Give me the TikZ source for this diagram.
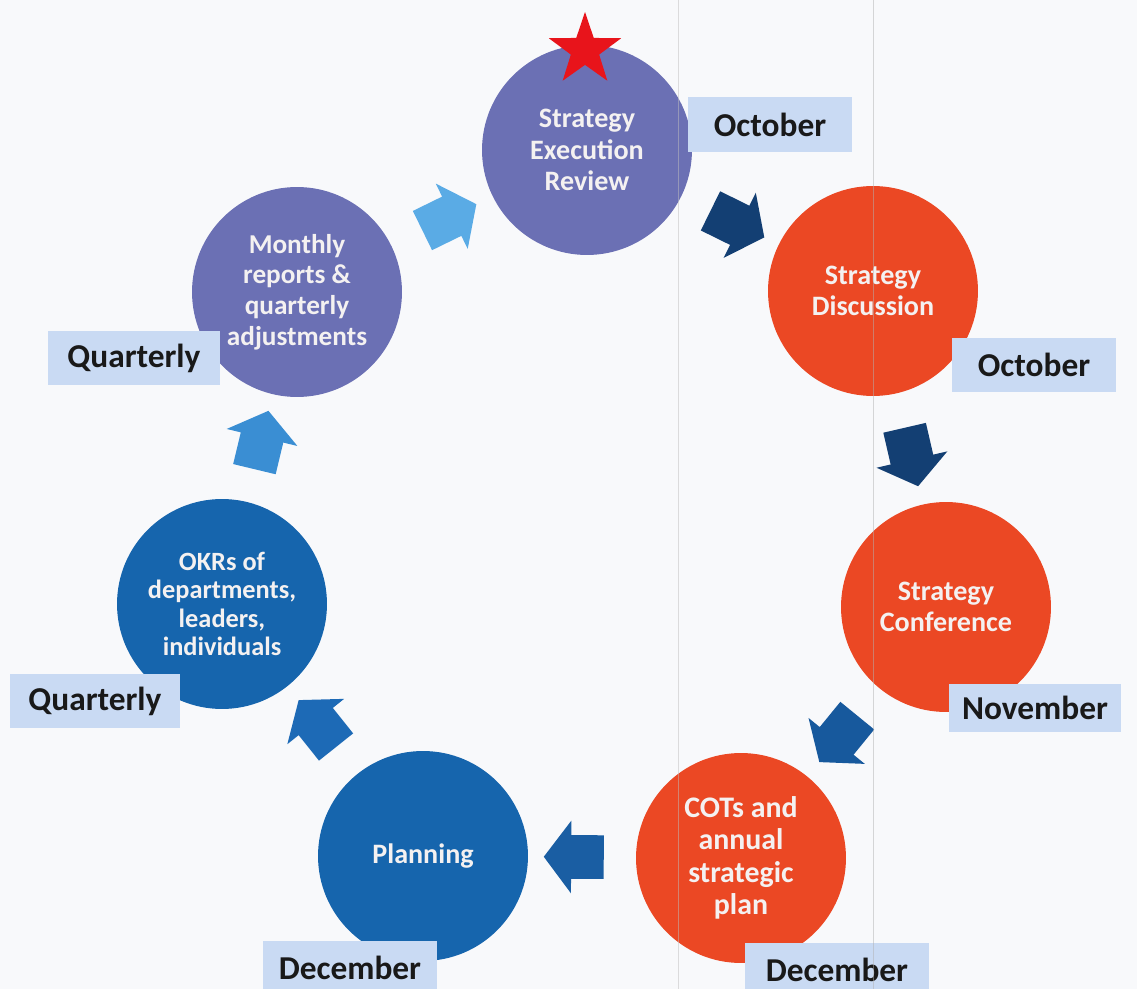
\documentclass[tikz,border=0pt]{standalone}
\usepackage{fontspec}
\setmainfont{Carlito}
\usepackage{xcolor}
\usetikzlibrary{shapes.geometric,shapes.arrows,calc}

\definecolor{paper}{HTML}{F8F9FB}
\definecolor{reviewPurple}{HTML}{6B70B4}
\definecolor{strategyRed}{HTML}{EB4824}
\definecolor{planBlue}{HTML}{1665AD}
\definecolor{monthFill}{HTML}{C9DAF3}
\definecolor{phaseText}{HTML}{F4F1F1}
\definecolor{starRed}{HTML}{E8141B}
\definecolor{arrowNavy}{HTML}{133F73}
\definecolor{arrowDeep}{HTML}{17599D}
\definecolor{arrowMid}{HTML}{1A5EA3}
\definecolor{arrowBlue}{HTML}{1D6AB6}
\definecolor{arrowSky}{HTML}{3A8ED3}
\definecolor{arrowLight}{HTML}{5AABE5}

\tikzset{
  phase/.style={circle, minimum size=4.2cm, inner sep=0pt, text=phaseText,
    align=center, font=\bfseries\fontsize{16}{18}\selectfont},
  month/.style={fill=monthFill, minimum width=3.3cm, minimum height=1.1cm,
    inner sep=0pt, text=black!90, font=\bfseries\fontsize{19}{22}\selectfont},
  blockarrow/.style={single arrow, minimum height=1.2cm,
    inner xsep=0pt, inner ysep=0.43cm,
    single arrow head extend=0.29cm, single arrow tip angle=106,
    sloped, allow upside down, midway}
}

\begin{document}
\begin{tikzpicture}[x=0.02cm, y=-0.02cm]
  % page
  \useasboundingbox (0,0) rectangle (1137,989);
  \clip (0,0) rectangle (1137,989);
  \fill[paper] (0,0) rectangle (1137,989);

  % the seven steps of the cycle
  \node[phase, fill=reviewPurple] (review) at (587,150) {Strategy\\Execution\\Review};
  \node[phase, fill=strategyRed] (discussion) at (873,291) {Strategy\\Discussion};
  \node[phase, fill=strategyRed] (conference) at (946,607) {Strategy\\Conference};
  \node[phase, fill=strategyRed, font=\bfseries\fontsize{17}{18.5}\selectfont] (cots) at (741,858) {COTs and\\annual\\strategic\\plan};
  \node[phase, fill=planBlue] (planning) at (423,856) {Planning};
  \node[phase, fill=planBlue, font=\bfseries\fontsize{15}{16.2}\selectfont] (okrs) at (222,604) {OKRs of\\departments,\\leaders,\\individuals};
  \node[phase, fill=reviewPurple, font=\bfseries\fontsize{15.5}{17.5}\selectfont] (monthly) at (297,292) {Monthly\\reports \&\\quarterly\\adjustments};

  % star on top of the review
  \node[star, star points=5, star point ratio=2.55, minimum size=1.52cm,
    inner sep=0pt, fill=starRed] (start) at (585,50) {};

  % block arrows between the steps
  \path (review) -- (discussion) node[blockarrow, fill=arrowNavy] (a1) {};
  \path (discussion) -- (conference) node[blockarrow, fill=arrowNavy] (a2) {};
  \path (conference) -- (cots) node[blockarrow, fill=arrowDeep] (a3) {};
  \path (cots) -- (planning) node[blockarrow, fill=arrowMid] (a4) {};
  \path (planning) -- (okrs) node[blockarrow, fill=arrowBlue] (a5) {};
  \path (okrs) -- (monthly) node[blockarrow, fill=arrowSky] (a6) {};
  \path (monthly) -- (review) node[blockarrow, fill=arrowLight] (a7) {};

  % timing labels
  \node[month] (octA) at (770,125) {October};
  \node[month] (octB) at (1034,365) {October};
  \node[month, minimum width=3.45cm, minimum height=0.98cm] (nov) at (1035,708) {November};
  \node[month, minimum width=3.7cm] (decA) at (837,970) {December};
  \node[month, minimum width=3.5cm] (decB) at (350,968) {December};
  \node[month, minimum width=3.44cm] (qtrA) at (134,358) {Quarterly};
  \node[month, minimum width=3.4cm] (qtrB) at (95,701) {Quarterly};

  % fold lines of the sheet
  \draw[black!25, opacity=0.5, line width=0.4pt] (678,0) -- (678,989);
  \draw[black!30, opacity=0.5, line width=0.4pt] (873,0) -- (873,989);
\end{tikzpicture}
\end{document}
